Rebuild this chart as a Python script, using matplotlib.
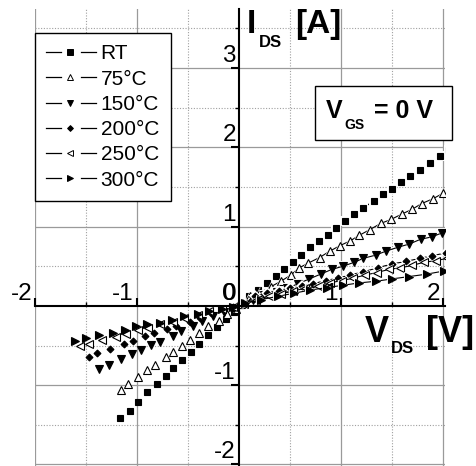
import matplotlib
matplotlib.use('Agg')
import matplotlib.pyplot as plt
from matplotlib.lines import Line2D
from matplotlib.legend_handler import HandlerBase
from matplotlib.patches import Rectangle
import matplotlib.transforms as mtransforms
from matplotlib.ticker import FixedLocator

plt.rcParams['font.family'] = ['Liberation Sans', 'DejaVu Sans']

# ---------------- data ----------------
labels = ['RT', '75°C', '150°C', '200°C', '250°C', '300°C']
markers = ['s', '^', 'v', 'D', '<', '>']
fills = ['k', 'white', 'k', 'k', 'white', 'k']

x_ticks = [-2, -1, 1, 2]
y_ticks = [-2, -1, 1, 2, 3]

# positive bias (measured with connecting lines)
rt_xp = [0.01, 0.10, 0.19, 0.27, 0.36, 0.44, 0.53, 0.61, 0.70, 0.78, 0.87, 0.95,
         1.04, 1.13, 1.22, 1.32, 1.41, 1.50, 1.59, 1.68, 1.77, 1.87, 1.97, 2.06]
rt_yp = [0.01, 0.12, 0.20, 0.29, 0.38, 0.46, 0.55, 0.64, 0.74, 0.82, 0.90, 0.98,
         1.07, 1.16, 1.24, 1.32, 1.41, 1.48, 1.56, 1.64, 1.72, 1.80, 1.89, 1.96]
t75_xp = [0.02, 0.11, 0.21, 0.31, 0.41, 0.51, 0.59, 0.68, 0.79, 0.89, 0.99, 1.09,
          1.18, 1.28, 1.39, 1.49, 1.60, 1.70, 1.79, 1.90, 2.00, 2.10]
t75_yp = [0.02, 0.12, 0.17, 0.24, 0.31, 0.39, 0.48, 0.54, 0.61, 0.69, 0.76, 0.82,
          0.89, 0.96, 1.04, 1.09, 1.16, 1.22, 1.29, 1.35, 1.42, 1.48]
t150_xp = [0.03, 0.14, 0.25, 0.37, 0.47, 0.58, 0.69, 0.80, 0.91, 1.02, 1.13, 1.22,
           1.34, 1.44, 1.56, 1.67, 1.78, 1.89, 1.99, 2.10]
t150_yp = [0.02, 0.08, 0.14, 0.18, 0.22, 0.28, 0.34, 0.40, 0.46, 0.50, 0.55, 0.60,
           0.64, 0.69, 0.74, 0.78, 0.84, 0.87, 0.92, 0.97]
t200_xp = [0.04, 0.16, 0.27, 0.39, 0.50, 0.62, 0.73, 0.85, 0.97, 1.09, 1.22, 1.36,
           1.50, 1.64, 1.77, 1.89, 2.03]
t200_yp = [0.03, 0.12, 0.16, 0.19, 0.22, 0.25, 0.28, 0.32, 0.35, 0.39, 0.43, 0.48,
           0.53, 0.56, 0.60, 0.63, 0.67]
t250_xp = [0.05, 0.17, 0.29, 0.41, 0.53, 0.65, 0.77, 0.89, 1.01, 1.12, 1.24, 1.35,
           1.47, 1.58, 1.70, 1.81, 1.93, 2.04]
t250_yp = [0.02, 0.08, 0.12, 0.15, 0.19, 0.22, 0.25, 0.29, 0.32, 0.35, 0.39, 0.42,
           0.46, 0.48, 0.51, 0.55, 0.57, 0.60]
t300_xp = [0.06, 0.22, 0.38, 0.54, 0.70, 0.86, 1.02, 1.18, 1.34, 1.50, 1.67, 1.84, 2.01]
t300_yp = [0.03, 0.08, 0.12, 0.16, 0.20, 0.23, 0.26, 0.29, 0.31, 0.34, 0.37, 0.40, 0.44]

# negative bias (symbols only)
rt_xn = [-1.17, -1.07, -0.99, -0.90, -0.80, -0.72, -0.65, -0.56, -0.47, -0.39, -0.30, -0.22, -0.13, -0.05]
rt_yn = [-1.42, -1.32, -1.21, -1.09, -0.98, -0.88, -0.78, -0.68, -0.58, -0.48, -0.37, -0.27, -0.17, -0.08]
t75_xn = [-1.16, -1.09, -0.99, -0.90, -0.82, -0.72, -0.65, -0.56, -0.48, -0.39, -0.30, -0.20, -0.12, -0.03]
t75_yn = [-1.06, -0.98, -0.90, -0.81, -0.74, -0.64, -0.58, -0.50, -0.43, -0.34, -0.25, -0.19, -0.10, -0.04]
t150_xn = [-1.37, -1.27, -1.16, -1.05, -0.96, -0.86, -0.77, -0.65, -0.57, -0.45, -0.36, -0.25, -0.15, -0.05]
t150_yn = [-0.80, -0.75, -0.67, -0.61, -0.56, -0.49, -0.45, -0.38, -0.32, -0.25, -0.19, -0.13, -0.08, -0.03]
t200_xn = [-1.47, -1.39, -1.26, -1.13, -1.04, -0.92, -0.83, -0.71, -0.62, -0.48, -0.38, -0.27, -0.16, -0.06]
t200_yn = [-0.64, -0.59, -0.54, -0.48, -0.44, -0.38, -0.34, -0.29, -0.25, -0.20, -0.15, -0.09, -0.04, -0.02]
t250_xn = [-1.56, -1.47, -1.34, -1.21, -1.11, -0.99, -0.89, -0.77, -0.65, -0.54, -0.40, -0.29, -0.17, -0.06]
t250_yn = [-0.51, -0.48, -0.43, -0.39, -0.35, -0.31, -0.28, -0.23, -0.20, -0.15, -0.12, -0.06, -0.04, -0.01]
t300_xn = [-1.61, -1.50, -1.37, -1.24, -1.12, -1.01, -0.90, -0.77, -0.66, -0.54, -0.40, -0.29, -0.17, -0.06]
t300_yn = [-0.44, -0.41, -0.37, -0.34, -0.31, -0.26, -0.23, -0.21, -0.18, -0.13, -0.10, -0.07, -0.04, -0.01]

pos = [(rt_xp, rt_yp), (t75_xp, t75_yp), (t150_xp, t150_yp),
       (t200_xp, t200_yp), (t250_xp, t250_yp), (t300_xp, t300_yp)]
neg = [(rt_xn, rt_yn), (t75_xn, t75_yn), (t150_xn, t150_yn),
       (t200_xn, t200_yn), (t250_xn, t250_yn), (t300_xn, t300_yn)]

# ---------------- figure ----------------
W, H = 476, 466
fig = plt.figure(figsize=(W / 100, H / 100), dpi=100)
ax = fig.add_axes([35 / W, 0, 410 / W, 457.4 / H])
ax.set_xlim(-2, 2.02)
ax.set_ylim(-2.02, 3.75)

for s in ['top', 'right']:
    ax.spines[s].set_visible(False)
ax.spines['left'].set_position(('data', 0))
ax.spines['bottom'].set_position(('data', 0))
for s in ['left', 'bottom']:
    ax.spines[s].set_linewidth(1.5)
    ax.spines[s].set_zorder(6)

ax.xaxis.set_major_locator(FixedLocator(x_ticks))
ax.yaxis.set_major_locator(FixedLocator(y_ticks))
ax.xaxis.set_minor_locator(FixedLocator([-1.5, -0.5, 0.5, 1.5]))
ax.yaxis.set_minor_locator(FixedLocator([-1.5, -0.5, 0.5, 1.5, 2.5, 3.5]))
ax.tick_params(axis='x', which='major', direction='in', length=6, width=1.5,
               labelbottom=False)
ax.tick_params(axis='y', which='major', direction='out', length=6, width=1.5,
               labelleft=False)
ax.tick_params(axis='x', which='minor', direction='in', length=3, width=1.0)
ax.tick_params(axis='y', which='minor', direction='out', length=3, width=1.0)

ax.grid(which='major', color='#9a9a9a', lw=0.9, ls='-')
ax.grid(which='minor', color='#a0a0a0', lw=0.8, ls=(0, (1, 1.5)))
ax.set_axisbelow(True)

ms_map = {'s': 4.3, '^': 5.1, 'v': 5.1, 'D': 3.5, '<': 5.1, '>': 5.1}
for i, ((xp, yp), (xn, yn), m, f) in enumerate(zip(pos, neg, markers, fills)):
    ms = ms_map[m]
    z = 3 + i * 0.1
    ax.plot(xp, yp, '-', color='k', lw=0.8, zorder=z)
    ax.plot(xp, yp, ls='none', marker=m, ms=ms + 2.2, mfc='white', mec='white',
            mew=0, zorder=z + 0.01)
    ax.plot(xp, yp, ls='none', marker=m, ms=ms, mfc=f, mec='k', mew=0.8,
            zorder=z + 0.02)
    ax.plot(xn, yn, ls='none', marker=m, ms=ms, mfc=f, mec='k', mew=0.8,
            zorder=z + 0.02)

# tick labels placed above/left of the ticks
off = mtransforms.offset_copy(ax.transData, fig=fig, x=-3, y=6, units='dots')
for v in x_ticks:
    ax.text(v, 0, str(v), transform=off, ha='right',
            va='baseline', fontsize=17.5, zorder=7)
for v in y_ticks:
    ax.text(0, v, str(v), transform=off, ha='right', va='baseline',
            fontsize=17.5, zorder=7)
ax.text(0, 0, '0', transform=off, ha='right', va='baseline', fontsize=17.5, zorder=7)
off2 = mtransforms.offset_copy(ax.transData, fig=fig, x=-2, y=6, units='dots')
ax.text(0, 0, '0', transform=off2, ha='right', va='baseline', fontsize=17.5, zorder=7)


def ftext(px, py, s, size, **kw):
    fig.text(px / W, 1 - py / H, s, fontsize=size, fontweight='bold',
             ha='left', va='baseline', **kw)


# axis titles
ftext(247, 33, 'I', 24)
ftext(259, 47, 'DS', 12)
ftext(295, 33, '[A]', 24)
ftext(365, 342, 'V', 26)
ftext(391, 353, 'DS', 12)
ftext(426, 342, '[V]', 26)

# V_GS box
fig.patches.append(Rectangle((315 / W, 1 - 140 / H), 137 / W, 54 / H,
                             transform=fig.transFigure, fill=True, fc='white',
                             ec='k', lw=1.0, zorder=8))
ftext(326, 118, 'V', 18, zorder=9)
ftext(344, 129, 'GS', 10, zorder=9)
ftext(374, 118, '= 0 V', 18, zorder=9)


# legend: line - symbol - line with gaps around the symbol
class GapHandler(HandlerBase):
    def create_artists(self, legend, orig_handle, xdescent, ydescent, width,
                       height, fontsize, trans):
        y = height / 2 - ydescent
        x0 = -xdescent
        x1 = x0 + width
        xc = (x0 + x1) / 2
        gap = 0.2 * width
        l1 = Line2D([x0, x0 + 0.3 * width], [y, y], color='k', lw=0.9)
        l2 = Line2D([xc + gap, x1], [y, y], color='k', lw=0.9)
        mk = Line2D([xc - 0.02 * width], [y], ls='none',
                    marker=orig_handle.get_marker(),
                    ms=orig_handle.get_markersize(),
                    mfc=orig_handle.get_markerfacecolor(), mec='k', mew=0.7)
        for a in (l1, l2, mk):
            a.set_transform(trans)
        return [l1, l2, mk]


handles = [Line2D([], [], marker=m, ms=ms_map[m] * 0.85, mfc=f, mec='k')
           for m, f in zip(markers, fills)]
leg = fig.legend(handles, labels, loc='upper left',
                 bbox_to_anchor=(35 / W, 1 - 33 / H), bbox_transform=fig.transFigure,
                 handler_map={Line2D: GapHandler()},
                 fontsize=15, frameon=True, fancybox=False, framealpha=1,
                 edgecolor='k', borderpad=0.55, labelspacing=0.3,
                 handlelength=2.4, handletextpad=0.2, borderaxespad=0)
leg.get_frame().set_linewidth(1.0)
leg.set_zorder(10)

fig.savefig('out.png', dpi=100)
